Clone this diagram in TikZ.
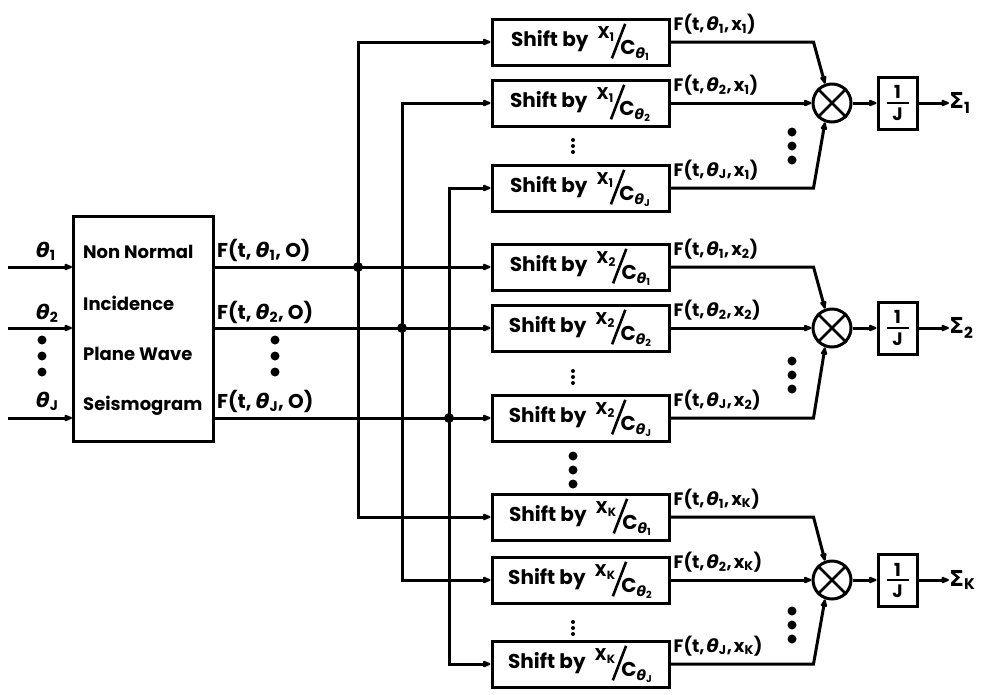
\documentclass[tikz,border=0pt]{standalone}
\usepackage{fontspec}
\setmainfont{Poppins}
\newfontfamily\grk{DejaVu Sans}
\usetikzlibrary{arrows.meta}
\newcommand\thet{{\grk\itshape θ}}
\newcommand\shiftlab[2]{\fontsize{20}{24}\selectfont Shift by\hspace{9pt}\raisebox{8pt}{\fontsize{17}{17}\selectfont X\textsubscript{#1}}\kern-4pt\raisebox{-12pt}{\rotatebox{69}{\rule{37pt}{2.6pt}}}\kern-6pt\raisebox{-8pt}{C\textsubscript{\thet\textsubscript{#2}}}}
\newcommand\onej{\vbox{\hbox to 22pt{\hss 1\hss}\kern3pt\hrule height 2.4pt\kern3pt\hbox to 22pt{\hss J\hss}}}
\tikzset{
 wire/.style={line width=3pt},
 arr/.style={wire, -{Latex[length=11pt,width=8pt,round]}},
 shiftbox/.style={draw, line width=3pt, minimum width=177pt, minimum height=46pt, inner sep=0pt},
 divbox/.style={draw, line width=3pt, minimum width=39pt, minimum height=52pt, inner sep=0pt},
 sumnode/.style={draw, circle, line width=3pt, minimum size=38pt, inner sep=0pt},
 lab/.style={inner sep=0pt, anchor=base west},
 flab/.style={lab, font=\fontsize{20}{24}\selectfont\bfseries},
 bigdot/.style={circle, fill, inner sep=0pt, minimum size=9pt},
 smalldot/.style={circle, fill, inner sep=0pt, minimum size=4pt},
 jdot/.style={circle, fill, inner sep=0pt, minimum size=10pt},
}
\begin{document}
\begin{tikzpicture}[x=1pt,y=-1pt, font=\fontsize{18}{22}\selectfont\bfseries]
\useasboundingbox (0,0) rectangle (982,694);
% system box
\node[draw, line width=3pt, minimum width=140pt, minimum height=225pt, anchor=north west, inner sep=0pt] (sys) at (72,215) {};
\node[lab] (t1) at (83,258) {Non Normal};
\node[lab] (t2) at (83,310) {Incidence};
\node[lab] (t3) at (83,360) {Plane Wave};
\node[lab] (t4) at (83,410) {Seismogram};
% inputs
\coordinate (in1) at (8,267);
\coordinate (in2) at (8,328);
\coordinate (in3) at (8,418);
\draw[arr] (in1) -- (in1 -| sys.west);
\draw[arr] (in2) -- (in2 -| sys.west);
\draw[arr] (in3) -- (in3 -| sys.west);
\node[flab] (th1) at (36,257) {\thet\textsubscript{1}};
\node[flab] (th2) at (36,319) {\thet\textsubscript{2}};
\node[flab] (th3) at (36,407) {\thet\textsubscript{J}};
\foreach \y [count=\i] in {340,356,372} \node[bigdot] (ld\i) at (42,\y) {};
\foreach \y [count=\i] in {340,356,372} \node[bigdot] (od\i) at (275,\y) {};
\node[flab] (f1) at (217,257) {F(t, \thet\textsubscript{1}, O)};
\node[flab] (f2) at (217,319) {F(t, \thet\textsubscript{2}, O)};
\node[flab] (f3) at (217,408) {F(t, \thet\textsubscript{J}, O)};
% groups
\foreach \g/\ra/\rb/\rc/\sd/\bd in {1/42/103/188/146/146, 2/267/328/418/377/375, K/517/580/664/628/625} {
 \node[shiftbox] (s\g a) at (580.5,\ra) {\shiftlab{\g}{1}};
 \node[shiftbox] (s\g b) at (580.5,\rb) {\shiftlab{\g}{2}};
 \node[shiftbox] (s\g c) at (580.5,\rc) {\shiftlab{\g}{J}};
 \foreach \k in {-6,0,6} \node[smalldot] at (573,\sd+\k) {};
 \foreach \k in {-14,0,14} \node[bigdot] at (792,\bd+\k) {};
 \node[sumnode] (c\g) at (832,\rb) {};
 \draw[line width=2.6pt] (c\g.north east) -- (c\g.south west) (c\g.north west) -- (c\g.south east);
 \node[divbox] (d\g) at (897.5,\rb) {\onej};
 \node[inner sep=0pt, anchor=west, font=\fontsize{22}{26}\selectfont\bfseries] (S\g) at (949,\rb) {{\grk Σ}\textsubscript{\g}};
 \node[lab] at ([xshift=3pt,yshift=12pt]s\g a.east) {F(t,\hspace{2pt}\thet\textsubscript{1},\hspace{2pt}x\textsubscript{\g})};
 \node[lab] at ([xshift=3pt,yshift=12pt]s\g b.east) {F(t,\hspace{2pt}\thet\textsubscript{2},\hspace{2pt}x\textsubscript{\g})};
 \node[lab] at ([xshift=3pt,yshift=12pt]s\g c.east) {F(t,\hspace{2pt}\thet\textsubscript{J},\hspace{2pt}x\textsubscript{\g})};
 \draw[arr] (s\g a.east) -- ([xshift=143pt]s\g a.east) -- (c\g.110);
 \draw[arr] (s\g b.east) -- (c\g.west);
 \draw[arr] (s\g c.east) -- ([xshift=143pt]s\g c.east) -- (c\g.250);
 \draw[arr] (c\g.east) -- (d\g.west);
 \draw[arr] (d\g.east) -- (S\g.west);
}
\foreach \y in {456,470,484} \node[bigdot] at (573,\y) {};
% bus
\draw[arr] (sys.east |- s2a.west) -- (s2a.west);
\draw[arr] (sys.east |- s2b.west) -- (s2b.west);
\draw[arr] (sys.east |- s2c.west) -- (s2c.west);
\node[jdot] (j1) at (358,267) {};
\node[jdot] (j2) at (402,328) {};
\node[jdot] (j3) at (449,418) {};
\draw[arr] (j1.center) |- (s1a.west);
\draw[arr] (j1.center) |- (sKa.west);
\draw[arr] (j2.center) |- (s1b.west);
\draw[arr] (j2.center) |- (sKb.west);
\draw[arr] (j3.center) |- (s1c.west);
\draw[arr] (j3.center) |- (sKc.west);
\end{tikzpicture}
\end{document}
